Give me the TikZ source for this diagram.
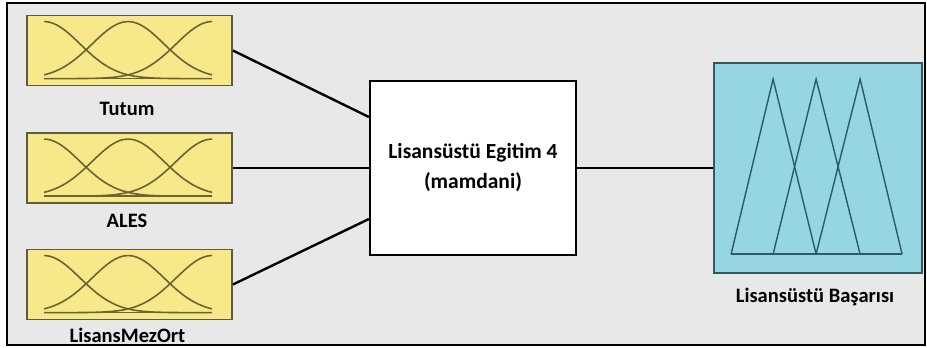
\documentclass[tikz,border=0pt]{standalone}
\usepackage{fontspec}
\setmainfont{Carlito}
\usetikzlibrary{calc}
\definecolor{bg}{HTML}{E8E8E8}
\definecolor{mfyel}{HTML}{F7E98A}
\definecolor{mfedge}{HTML}{5E5A3A}
\definecolor{curvecol}{HTML}{6A6434}
\definecolor{outblue}{HTML}{96D5E2}
\definecolor{outedge}{HTML}{35585C}
\definecolor{tricol}{HTML}{2B5C64}
\tikzset{
  inbox/.style={draw=mfedge, fill=mfyel, line width=1.8pt, minimum width=205pt, minimum height=70pt, inner sep=0pt},
  sysbox/.style={draw=black, fill=white, line width=2.2pt, minimum width=206pt, minimum height=174pt, inner sep=0pt, align=center, font=\bfseries\fontsize{21.5}{30}\selectfont},
  outbox/.style={draw=outedge, fill=outblue, line width=1.8pt, minimum width=208pt, minimum height=210pt, inner sep=0pt},
  lab/.style={anchor=base, inner sep=0pt, font=\bfseries\fontsize{20.5}{24}\selectfont},
  conn/.style={draw=black, line width=2.4pt},
  mfcurve/.style={draw=curvecol, line width=1.6pt},
  mftri/.style={draw=tricol, line width=1.4pt}
}
\begin{document}
\begin{tikzpicture}[x=1pt,y=-1pt]
\useasboundingbox (0,0) rectangle (927,348);
\fill[white] (0,0) rectangle (927,348);
\draw[fill=bg, line width=1.5pt] (7,3) rectangle (925,345);
% inputs
\node[inbox] (in1) at (129.5,50.5) {};
\node[inbox] (in2) at (129.5,168) {};
\node[inbox] (in3) at (129.5,284.5) {};
\foreach \b in {in1,in2,in3}{
  \begin{scope}[shift={(\b.north west)}]
    \draw[mfcurve] (18,64) -- (186,64);
    \foreach \c in {18,102,186}{
      \draw[mfcurve] plot[domain=18:186, samples=80, smooth] (\x, {64 - 57*exp(-0.5*((\x-\c)/36)^2)});
    }
  \end{scope}
}
\node[lab] (l1) at (127,115) {Tutum};
\node[lab] (l2) at (127,227) {ALES};
\node[lab] (l3) at (127.5,342) {LisansMezOrt};
% system
\node[sysbox] (sys) at (473,168) {Lisansüstü Egitim 4\\(mamdani)};
% output
\node[outbox] (out) at (818,168) {};
\begin{scope}[shift={(out.north west)}]
  \draw[mftri] (18,192) -- (189,192);
  \draw[mftri] (18,192) -- (60,17) -- (103,192);
  \draw[mftri] (60,192) -- (103,17) -- (147,192);
  \draw[mftri] (103,192) -- (147,17) -- (189,192);
\end{scope}
\node[lab] (l4) at (815,302) {Lisansüstü Başarısı};
% connectors
\draw[conn] (in1.east) -- ([yshift=51pt]sys.west);
\draw[conn] (in2.east) -- (sys.west);
\draw[conn] (in3.east) -- ([yshift=-51pt]sys.west);
\draw[conn] (sys.east) -- (out.west);
\end{tikzpicture}
\end{document}
